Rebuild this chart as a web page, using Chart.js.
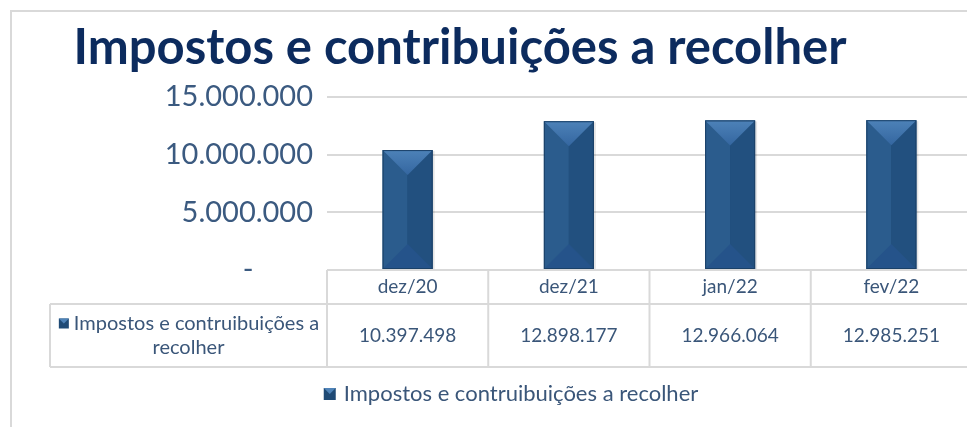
<!DOCTYPE html>
<html>
<head>
<meta charset="utf-8">
<script src="https://cdn.jsdelivr.net/npm/chart.js@4"></script>
<style>
    html, body { margin: 0; padding: 0; background: #fff; overflow: hidden; }
    #frame { position: absolute; left: 10px; top: 10px; width: 980px; height: 430px;
             border-left: 2px solid #d9d9d9; border-top: 2px solid #d9d9d9; }
    #wrap { position: absolute; left: 0; top: 0; width: 980px; height: 427px; }
</style>
</head>
<body>
<div id="frame"></div>
<div id="wrap"><canvas id="chart"></canvas></div>
<script>
// -----------------------------
// Data
// -----------------------------
const categories = ['dez/20', 'dez/21', 'jan/22', 'fev/22'];
const seriesName = 'Impostos e contribuições a recolher';
const seriesLabel = 'Impostos e contruibuições a recolher';
const rowLabelLines = ['Impostos e contruibuições a', 'recolher'];
const values = [10397498, 12898177, 12966064, 12985251];
const yTicks = [0, 5000000, 10000000, 15000000];

// -----------------------------
// Styles
// -----------------------------
const FONT = 'Lato, "Open Sans", sans-serif';
const TEXT_COLOR = '#3a5679';
const GRID_COLOR = '#d9d9d9';

function formatCell(v) {
    return String(Math.round(v)).replace(/\B(?=(\d{3})+(?!\d))/g, '.');
}

// accounting style: zero shows as a dash
function formatTick(v) {
    return v === 0 ? '-        ' : formatCell(v);
}

// -----------------------------
// Title (centred a bit left of the canvas, like the original)
// -----------------------------
const titlePlugin = {
    id: 'chartTitle',
    afterDraw(chart) {
        const ctx = chart.ctx;
        ctx.save();
        ctx.fillStyle = '#0c2b5e';
        ctx.font = 'bold 49px ' + FONT;
        ctx.textAlign = 'center';
        ctx.textBaseline = 'alphabetic';
        ctx.fillText(seriesName, 460, 64);
        ctx.restore();
    }
};

// -----------------------------
// Bevel effect on bars
// -----------------------------
const bevelPlugin = {
    id: 'bevel',
    afterDatasetsDraw(chart) {
        const ctx = chart.ctx;
        chart.getDatasetMeta(0).data.forEach(bar => {
            const w = bar.width;
            const l = bar.x - w / 2, r = bar.x + w / 2;
            const t = bar.y, b = bar.base;
            const d = w / 2;
            ctx.save();
            // shadow
            ctx.fillStyle = 'rgba(0,0,0,0.10)';
            ctx.fillRect(r, t + 1, 2, b - t - 1);
            // left / right faces
            ctx.fillStyle = '#2b5c8d';
            ctx.fillRect(l, t, w / 2, b - t);
            ctx.fillStyle = '#22507f';
            ctx.fillRect(bar.x, t, w / 2, b - t);
            // bottom
            ctx.fillStyle = '#25538a';
            ctx.beginPath();
            ctx.moveTo(l, b); ctx.lineTo(r, b); ctx.lineTo(bar.x, b - d); ctx.closePath();
            ctx.fill();
            // top
            const g = ctx.createLinearGradient(0, t, 0, t + d);
            g.addColorStop(0, '#4d82b8');
            g.addColorStop(1, '#3466a0');
            ctx.fillStyle = g;
            ctx.beginPath();
            ctx.moveTo(l, t); ctx.lineTo(r, t); ctx.lineTo(bar.x, t + d); ctx.closePath();
            ctx.fill();
            // outline
            ctx.strokeStyle = '#1b4168';
            ctx.lineWidth = 1;
            ctx.strokeRect(l + 0.5, t + 0.5, w - 1, b - t - 1);
            ctx.restore();
        });
    }
};

// -----------------------------
// Data table + legend below the plot
// -----------------------------
function drawMarker(ctx, x, y, s) {
    ctx.fillStyle = '#1f4a75';
    ctx.fillRect(x, y, s, s);
    ctx.fillStyle = '#4f83b8';
    ctx.beginPath();
    ctx.moveTo(x, y); ctx.lineTo(x + s, y); ctx.lineTo(x + s / 2, y + s / 2); ctx.closePath();
    ctx.fill();
}

const tablePlugin = {
    id: 'dataTable',
    afterDraw(chart) {
        const { ctx, chartArea } = chart;
        const x = chart.scales.x;
        const top = chartArea.bottom;
        const headerBottom = top + 34;
        const rowBottom = headerBottom + 63;
        const labelLeft = 50;
        const step = x.getPixelForValue(1) - x.getPixelForValue(0);
        const edges = categories.map((_, i) => x.getPixelForValue(i) - step / 2);
        edges.push(x.getPixelForValue(categories.length - 1) + step / 2);

        ctx.save();
        ctx.strokeStyle = GRID_COLOR;
        ctx.lineWidth = 2;
        ctx.beginPath();
        ctx.moveTo(chartArea.left, top); ctx.lineTo(chart.width, top);
        ctx.moveTo(labelLeft, headerBottom); ctx.lineTo(chart.width, headerBottom);
        ctx.moveTo(labelLeft, rowBottom); ctx.lineTo(chart.width, rowBottom);
        ctx.moveTo(labelLeft, headerBottom); ctx.lineTo(labelLeft, rowBottom);
        edges.forEach(e => { ctx.moveTo(e, top); ctx.lineTo(e, rowBottom); });
        ctx.stroke();

        ctx.fillStyle = TEXT_COLOR;
        ctx.textAlign = 'center';
        ctx.textBaseline = 'middle';
        ctx.font = '19px ' + FONT;
        categories.forEach((c, i) => {
            const cx = x.getPixelForValue(i);
            ctx.fillText(c, cx, (top + headerBottom) / 2);
            ctx.fillText(formatCell(values[i]), cx, (headerBottom + rowBottom) / 2);
        });

        // row label
        ctx.font = '20px ' + FONT;
        const midX = (labelLeft + chartArea.left) / 2;
        const midY = (headerBottom + rowBottom) / 2;
        const w0 = ctx.measureText(rowLabelLines[0]).width;
        ctx.fillText(rowLabelLines[0], midX + 8, midY - 12);
        ctx.fillText(rowLabelLines[1], midX, midY + 12);
        drawMarker(ctx, midX + 8 - w0 / 2 - 15, midY - 17, 10);

        // legend
        ctx.font = '22px ' + FONT;
        const lw = ctx.measureText(seriesLabel).width;
        const total = 12 + 8 + lw;
        const lx = (labelLeft + chartArea.right) / 2 - total / 2;
        const ly = rowBottom + 27;
        drawMarker(ctx, lx, ly - 6, 12);
        ctx.textAlign = 'left';
        ctx.fillStyle = TEXT_COLOR;
        ctx.fillText(seriesLabel, lx + 20, ly);
        ctx.restore();
    }
};

// -----------------------------
// Chart
// -----------------------------
new Chart(document.getElementById('chart'), {
    type: 'bar',
    data: {
        labels: categories,
        datasets: [{
            label: seriesLabel,
            data: values,
            backgroundColor: '#1f4a75',
            categoryPercentage: 1,
            barPercentage: 0.31
        }]
    },
    options: {
        responsive: true,
        maintainAspectRatio: false,
        animation: false,
        devicePixelRatio: 1,
        layout: { padding: { top: 97, right: 8, bottom: 157, left: 0 } },
        plugins: {
            legend: { display: false },
            tooltip: { enabled: false },
            title: { display: false }
        },
        scales: {
            x: { display: false },
            y: {
                min: 0,
                max: 15000000,
                afterBuildTicks: scale => { scale.ticks = yTicks.map(v => ({ value: v })); },
                afterFit: scale => { scale.width = 327; },
                border: { display: false },
                grid: { color: GRID_COLOR, lineWidth: 2, drawTicks: false },
                ticks: {
                    padding: 14,
                    color: '#3b5a80',
                    font: { family: FONT, size: 29 },
                    callback: v => formatTick(v)
                }
            }
        }
    },
    plugins: [bevelPlugin, tablePlugin, titlePlugin]
});
</script>
</body>
</html>
